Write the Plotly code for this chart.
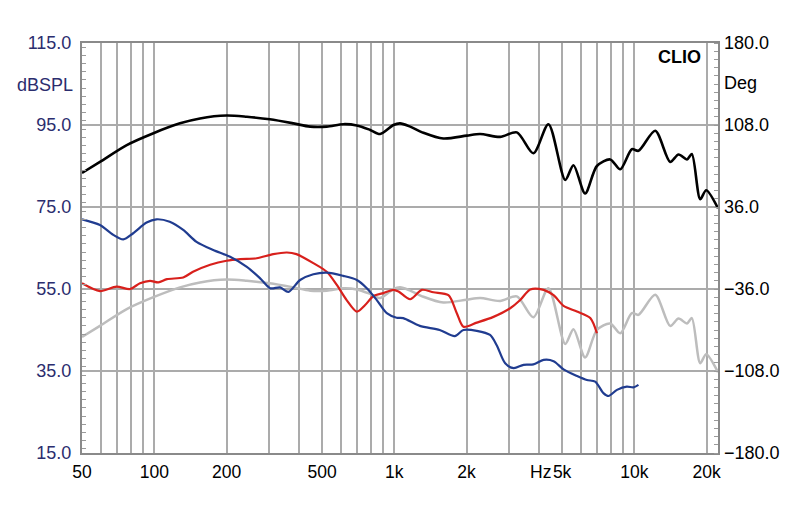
import numpy as np
import plotly.graph_objects as go

# ---- data ----
black_f = [50, 59.4, 76.8, 99.2, 128, 155, 200, 243, 303, 380, 446, 523, 613, 698, 793, 873, 991,
           1057, 1164, 1322, 1600, 2003, 2276, 2758, 3239, 3795, 4385, 5151, 5575, 6235, 6980,
           7925, 8730, 9760, 10400, 12210, 14090, 15270, 16560, 17350, 18800, 19910, 22300]
black_db = [83.3, 86.0, 90.1, 93.0, 95.4, 96.6, 97.3, 97.0, 96.4, 95.4, 94.6, 94.6, 95.2, 94.9, 93.8,
            92.8, 95.0, 95.4, 94.6, 93.1, 91.7, 92.4, 92.8, 92.1, 93.2, 88.1, 95.2, 81.6, 85.2,
            78.3, 85.0, 86.6, 84.2, 89.1, 88.7, 93.6, 86.0, 87.8, 86.6, 87.9, 76.9, 79.1, 74.7]

gray_f = black_f
gray_db = [43.3, 46.0, 50.1, 53.0, 55.4, 56.6, 57.3, 57.0, 56.4, 55.4, 54.6, 54.6, 55.2, 54.9, 53.8,
           52.8, 55.0, 55.4, 54.6, 53.1, 51.7, 52.4, 52.8, 52.1, 53.2, 48.1, 55.2, 41.6, 45.2,
           38.3, 45.0, 46.6, 44.2, 49.1, 48.7, 53.6, 46.0, 47.8, 46.6, 47.9, 36.9, 39.1, 34.7]

red_f = [50, 59.4, 69.6, 79.3, 87.2, 96, 104, 113, 132, 145, 171, 200, 228, 267, 313, 357, 391,
         460, 523, 576, 633, 698, 756, 819, 901, 991, 1041, 1164, 1302, 1455, 1680, 1821, 1940,
         2206, 2588, 3039, 3345, 3682, 4185, 4606, 5068, 5763, 6550, 6980]
red_db = [56.4, 54.5, 55.6, 55.0, 56.4, 57.0, 56.6, 57.4, 57.8, 59.2, 60.9, 61.9, 62.3, 62.5, 63.5,
          63.9, 63.5, 61.3, 59.2, 56.0, 52.3, 49.5, 51.1, 53.3, 54.0, 54.8, 54.4, 52.5, 54.8,
          54.2, 53.5, 49.1, 45.8, 46.8, 48.2, 50.3, 52.3, 54.9, 54.8, 53.5, 50.9, 49.5, 47.9, 44.2]

blue_f = [50, 59.4, 67.5, 74.3, 81.7, 92.9, 102, 116, 132, 150, 176, 206, 243, 276, 304, 334, 362,
          405, 460, 523, 613, 698, 768, 845, 930, 1022, 1089, 1277, 1545, 1786, 1940, 2206, 2505,
          2670, 2896, 3140, 3455, 3795, 4185, 4606, 5068, 5763, 6340, 6865, 7430, 7800, 8460,
          9300, 9910, 10400]
blue_db = [72.0, 70.6, 68.2, 67.1, 68.6, 71.2, 72.0, 71.4, 69.4, 66.5, 64.5, 62.9, 60.4, 57.6, 55.2,
           55.4, 54.3, 57.2, 58.6, 59.0, 58.2, 57.2, 55.2, 52.3, 49.1, 48.0, 47.9, 46.0, 45.0,
           43.5, 45.0, 44.8, 43.8, 41.3, 36.9, 35.7, 36.5, 36.6, 37.7, 37.4, 35.4, 33.8, 32.8,
           32.4, 29.6, 28.9, 30.4, 31.2, 31.0, 31.6]

grid_f = [50, 60, 70, 80, 90, 100, 200, 300, 400, 500, 600, 700, 800, 900,
          1000, 2000, 3000, 4000, 5000, 6000, 7000, 8000, 9000, 10000, 20000]
grid_txt = ["50", "", "", "", "", "100", "200", "", "", "500", "", "", "", "",
            "1k", "2k", "", "", "5k", "", "", "", "", "10k", "20k"]

db_ticks = [15, 35, 55, 75, 95, 115]
deg_ticks = [-180, -108, -36, 36, 108, 180]

FONT = "Liberation Sans, Arial, sans-serif"
NAVY = "#2b2d6e"
GRID = "#ababab"

fig = go.Figure()
fig.add_trace(go.Scatter(x=gray_f, y=gray_db, mode="lines",
                         line=dict(color="#bdbdbd", width=2.5, shape="spline", smoothing=0.8)))
fig.add_trace(go.Scatter(x=black_f, y=black_db, mode="lines",
                         line=dict(color="#000000", width=2.6, shape="spline", smoothing=0.8)))
fig.add_trace(go.Scatter(x=red_f, y=red_db, mode="lines",
                         line=dict(color="#d8201c", width=2.2, shape="spline", smoothing=0.8)))
fig.add_trace(go.Scatter(x=blue_f, y=blue_db, mode="lines",
                         line=dict(color="#203c90", width=2.2, shape="spline", smoothing=0.8)))
# invisible trace to activate right axis
fig.add_trace(go.Scatter(x=[50], y=[0], yaxis="y2", mode="markers",
                         marker=dict(opacity=0), hoverinfo="skip"))

fig.update_layout(
    width=800, height=511,
    margin=dict(l=82, r=82, t=43, b=58),
    paper_bgcolor="white", plot_bgcolor="white",
    showlegend=False,
    font=dict(family=FONT, size=17, color="black"),
    xaxis=dict(type="log", range=[np.log10(50), np.log10(22300)],
               tickvals=grid_f, ticktext=grid_txt, ticks="",
               showgrid=True, gridcolor=GRID, gridwidth=1.6,
               showline=True, linecolor="#8a8a8a", linewidth=2, mirror=True,
               zeroline=False, ticklabelstandoff=2,
               tickfont=dict(family=FONT, size=17.5, color="black")),
    yaxis=dict(range=[15, 115], tickvals=db_ticks, tickformat=".1f", ticks="",
               showgrid=True, gridcolor=GRID, gridwidth=1.6,
               showline=True, linecolor="#8a8a8a", linewidth=2, mirror=True,
               zeroline=False, ticklabelstandoff=5,
               tickfont=dict(family=FONT, size=18, color=NAVY),
               minor=dict(dtick=2, ticks="inside", ticklen=4, tickcolor="#9a9a9a",
                          tickwidth=1, showgrid=False)),
    yaxis2=dict(range=[-180, 180], tickvals=deg_ticks, tickformat=".1f", ticks="",
                overlaying="y", side="right", showgrid=False, zeroline=False,
                ticklabelstandoff=5,
                tickfont=dict(family=FONT, size=18, color="black"),
                minor=dict(dtick=7.2, ticks="inside", ticklen=4, tickcolor="#9a9a9a",
                           tickwidth=1, showgrid=False)),
    annotations=[
        dict(text="dBSPL", xref="paper", yref="paper", x=-0.011, y=0.898,
             xanchor="right", yanchor="middle", showarrow=False,
             font=dict(family=FONT, size=18, color=NAVY)),
        dict(text="Deg", xref="paper", yref="paper", x=1.007, y=0.902,
             xanchor="left", yanchor="middle", showarrow=False,
             font=dict(family=FONT, size=18, color="black")),
        dict(text="<b>CLIO</b>", xref="paper", yref="paper", x=0.977, y=0.965,
             xanchor="right", yanchor="middle", showarrow=False,
             font=dict(family=FONT, size=18, color="black")),
        dict(text="Hz", xref="x", yref="paper", x=np.log10(5000), y=0,
             xanchor="right", yanchor="top", xshift=-9, yshift=-7, showarrow=False,
             font=dict(family=FONT, size=17.5, color="black")),
    ],
)

fig.write_html("out.html")
